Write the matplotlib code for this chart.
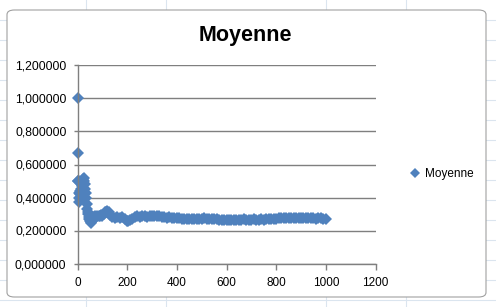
import matplotlib
matplotlib.use("Agg")
import matplotlib.pyplot as plt
from matplotlib.patches import FancyBboxPatch
from matplotlib.lines import Line2D

# ---- data ----
x_early = [1, 2, 3, 4, 5, 6, 7, 8, 9, 10, 12, 14, 16, 18, 20, 22, 24, 26, 28, 30,
           32, 34, 36, 38, 40, 42, 44, 46, 48, 50, 53, 56, 60, 65, 70, 75, 80, 85, 90, 95]
y_early = [1.0, 0.667, 0.5, 0.5, 0.4, 0.5, 0.43, 0.375, 0.44, 0.4, 0.42, 0.43, 0.45, 0.47, 0.48,
           0.50, 0.51, 0.52, 0.50, 0.48, 0.45, 0.43, 0.40, 0.36, 0.33, 0.31, 0.30, 0.28, 0.27, 0.26,
           0.25, 0.245, 0.26, 0.28, 0.29, 0.28, 0.29, 0.285, 0.29, 0.295]
x_mid = [100, 105, 110, 115, 120, 125, 130, 140, 150, 160, 170, 180, 190, 200, 205, 210, 220,
         230, 240, 250, 260, 270, 280, 290, 300, 310, 320, 330, 340, 350, 360, 370, 380, 390]
y_mid = [0.29, 0.30, 0.31, 0.315, 0.32, 0.31, 0.295, 0.28, 0.275, 0.28, 0.275, 0.28, 0.27, 0.26,
         0.255, 0.265, 0.27, 0.28, 0.285, 0.28, 0.285, 0.285, 0.28, 0.29, 0.29, 0.29, 0.285, 0.285,
         0.28, 0.28, 0.275, 0.28, 0.275, 0.275]
x_late = [400, 410, 420, 430, 440, 450, 460, 470, 480, 490, 500, 510, 520, 530, 540, 550, 560,
          570, 580, 590, 600, 610, 620, 630, 640, 650, 660, 670, 680, 690, 700, 710, 720, 730,
          740, 750, 760, 770, 780, 790, 800, 810, 820, 830, 840, 850, 860, 870, 880, 890, 900,
          910, 920, 930, 940, 950, 960, 970, 980, 990, 1000]
y_late = [0.275, 0.275, 0.272, 0.272, 0.27, 0.272, 0.272, 0.27, 0.27, 0.272, 0.272, 0.274, 0.272,
          0.27, 0.27, 0.268, 0.268, 0.266, 0.266, 0.265, 0.265, 0.264, 0.264, 0.263, 0.265, 0.266,
          0.266, 0.268, 0.266, 0.266, 0.266, 0.267, 0.266, 0.266, 0.267, 0.266, 0.267, 0.268, 0.267,
          0.268, 0.27, 0.274, 0.275, 0.275, 0.274, 0.274, 0.275, 0.274, 0.274, 0.273, 0.274,
          0.274, 0.273, 0.274, 0.274, 0.273, 0.272, 0.273, 0.273, 0.272, 0.272]
x_vals = x_early + x_mid + x_late
y_vals = y_early + y_mid + y_late

y_ticks = [0.0, 0.2, 0.4, 0.6, 0.8, 1.0, 1.2]
y_tick_labels = ["0,000000", "0,200000", "0,400000", "0,600000", "0,800000", "1,000000", "1,200000"]
x_ticks = [0, 200, 400, 600, 800, 1000, 1200]
series_name = "Moyenne"
title = "Moyenne"

W, H = 496, 307
fig = plt.figure(figsize=(W / 100, H / 100), dpi=100)
fig.patch.set_facecolor("white")
font = ["Liberation Sans", "DejaVu Sans"]

# spreadsheet grid lines outside chart frame
for xv in [86, 166, 326, 406]:
    fig.add_artist(Line2D([xv / W, xv / W], [0, 1], color="#dbe5ef", lw=0.8, zorder=0))
for yv in [20, 40, 60, 80, 100, 120, 140, 160, 180, 200, 220, 240, 260, 280, 300]:
    fig.add_artist(Line2D([0, 1], [1 - yv / H, 1 - yv / H], color="#dbe5ef", lw=0.8, zorder=0))
# chart frame (white with rounded gray border)
frame = FancyBboxPatch((7 / W, 10 / H), (486 - 7) / W, (297 - 10) / H,
                       boxstyle="round,pad=0,rounding_size=0.015",
                       transform=fig.transFigure, facecolor="white",
                       edgecolor="#a0a0a0", lw=0.8, zorder=0.5)
fig.add_artist(frame)

left, right = 77.5 / W, 375.5 / W
bottom, top = (H - 263.5) / H, (H - 65.5) / H
ax = fig.add_axes([left, bottom, right - left, top - bottom])
ax.set_facecolor("none")
ax.set_zorder(2)

ax.plot(x_vals, y_vals, linestyle="none", marker="D", markersize=6.2,
        markeredgewidth=0, color="#4f81bd", label=series_name, clip_on=False)

ax.set_xlim(0, 1200)
ax.set_ylim(0, 1.2)
ax.set_xticks(x_ticks)
ax.set_xticklabels([str(t) for t in x_ticks], fontsize=8.5, family=font)
ax.set_yticks(y_ticks)
ax.set_yticklabels(y_tick_labels, fontsize=8.7, family=font)
ax.yaxis.grid(True, color="#7f7f7f", lw=1.0)
ax.set_axisbelow(True)
for s in ["top", "right"]:
    ax.spines[s].set_visible(False)
for s in ["left", "bottom"]:
    ax.spines[s].set_color("#7f7f7f")
    ax.spines[s].set_linewidth(1.0)
ax.tick_params(axis="x", direction="out", length=4, width=1.0, color="#7f7f7f", pad=6)
ax.tick_params(axis="y", direction="out", length=3, width=1.0, color="#7f7f7f", pad=5)

fig.text(245 / W, 1 - 36 / H, title, ha="center", va="center", fontsize=15.5,
         fontweight="bold", family=font)

leg = fig.legend(loc="center left", bbox_to_anchor=(400 / W, 1 - 174 / H), frameon=False,
                 prop={"family": font, "size": 8.5}, handlelength=0.8, handletextpad=0.4,
                 markerscale=0.8)

fig.savefig("out.png", dpi=100, facecolor="white")
